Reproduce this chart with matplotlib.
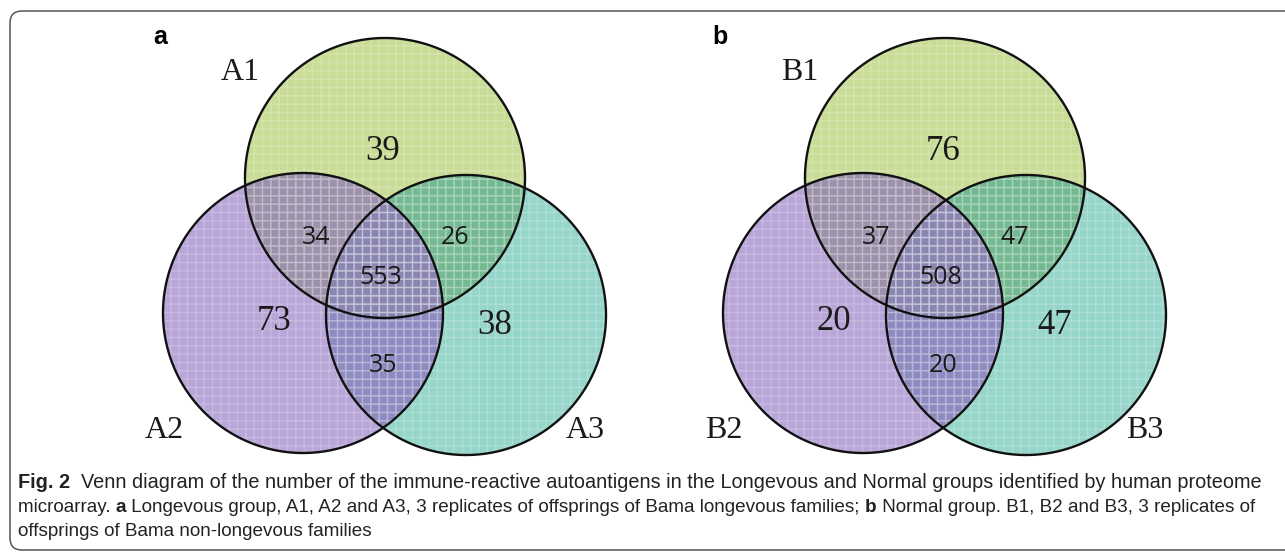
import numpy as np
import matplotlib
matplotlib.use("Agg")
import matplotlib.pyplot as plt
from matplotlib.patches import Polygon, FancyBboxPatch
from matplotlib import font_manager

# ---------------- data ----------------
panel_letters = ["a", "b"]
set_names_a = ["A1", "A2", "A3"]
set_names_b = ["B1", "B2", "B3"]
# region counts: only1, only2, only3, 1&2, 1&3, 2&3, 1&2&3
counts_a = [39, 73, 38, 34, 26, 35, 553]
counts_b = [76, 20, 47, 37, 47, 20, 508]

caption_lines = [
    [("Fig. 2", True), ("  Venn diagram of the number of the immune-reactive autoantigens in the Longevous and Normal groups identified by human proteome", False)],
    [("microarray. ", False), ("a", True), (" Longevous group, A1, A2 and A3, 3 replicates of offsprings of Bama longevous families; ", False),
     ("b", True), (" Normal group. B1, B2 and B3, 3 replicates of", False)],
    [("offsprings of Bama non-longevous families", False)],
]

# ---------------- style ----------------
W, H = 1285, 553
col_only = ["#c8dc96", "#b9a6d8", "#96d5c9"]
col_12 = "#9d92ab"
col_13 = "#74b992"
col_23 = "#8d8bbf"
col_123 = "#8a86b1"

avail = {f.name for f in font_manager.fontManager.ttflist}
def pick(*names):
    for n in names:
        if n in avail:
            return n
    return "DejaVu Sans"
serif = pick("Liberation Serif", "DejaVu Serif")
sans_num = pick("Open Sans", "Noto Sans", "DejaVu Sans")
bold_sans = pick("Liberation Sans", "DejaVu Sans")
cap_font = pick("Liberation Sans", "DejaVu Sans")

fig = plt.figure(figsize=(W / 100, H / 100), dpi=100)
ax = fig.add_axes([0, 0, 1, 1])
ax.set_xlim(0, W)
ax.set_ylim(H, 0)
ax.axis("off")

def circle_poly(cx, cy, r, n=720):
    t = np.linspace(0, 2 * np.pi, n, endpoint=False)
    return np.column_stack([cx + r * np.cos(t), cy + r * np.sin(t)])

def clip(subject, clipper):
    out = list(subject)
    m = len(clipper)
    for i in range(m):
        a = clipper[i]
        b = clipper[(i + 1) % m]
        inp = out
        out = []
        if not inp:
            break
        def inside(p):
            return (b[0] - a[0]) * (p[1] - a[1]) - (b[1] - a[1]) * (p[0] - a[0]) >= 0
        def inter(p, q):
            d1 = np.array(q) - np.array(p)
            d2 = b - a
            den = d1[0] * d2[1] - d1[1] * d2[0]
            s = ((a[0] - p[0]) * d2[1] - (a[1] - p[1]) * d2[0]) / den
            return np.array(p) + s * d1
        prev = inp[-1]
        for cur in inp:
            if inside(cur):
                if not inside(prev):
                    out.append(inter(prev, cur))
                out.append(cur)
            elif inside(prev):
                out.append(inter(prev, cur))
            prev = cur
    return np.array(out)

def venn(ox, names, counts, letter):
    r = 140
    centers = [(ox + 385, 178), (ox + 303, 313), (ox + 466, 315)]
    polys = [circle_poly(cx, cy, r) for cx, cy in centers]
    for p, c in zip(polys, col_only):
        ax.add_patch(Polygon(p, closed=True, facecolor=c, edgecolor="none", zorder=1))
    p12 = clip(polys[0], polys[1])
    p13 = clip(polys[0], polys[2])
    p23 = clip(polys[1], polys[2])
    p123 = clip(p12, polys[2])
    for p, c in [(p12, col_12), (p13, col_13), (p23, col_23), (p123, col_123)]:
        ax.add_patch(Polygon(p, closed=True, facecolor=c, edgecolor="none", zorder=2))
    # subtle grid texture
    for p in polys:
        ax.add_patch(Polygon(p, closed=True, facecolor="none", edgecolor=(1, 1, 1, 0.22),
                             hatch="++", linewidth=0, zorder=3))
    for p in polys:
        ax.add_patch(Polygon(p, closed=True, facecolor="none", edgecolor="#111111", linewidth=1.7, zorder=4))

    only1, only2, only3, n12, n13, n23, n123 = counts
    serif_pos = [((ox + 383, 152), only1), ((ox + 274, 322), only2), ((ox + 495, 325), only3)]
    sans_pos = [((ox + 316, 238), n12), ((ox + 455, 237), n13), ((ox + 383, 365), n23), ((ox + 381, 278), n123)]
    for (x, y), v in serif_pos:
        ax.text(x, y, str(v), fontfamily=serif, fontsize=25, ha="center", va="center", color="#1a1a1a", zorder=5)
    for (x, y), v in sans_pos:
        ax.text(x, y, str(v), fontfamily=sans_num, fontsize=18, ha="center", va="center", color="#1a1a1a", zorder=5)
    lab_pos = [(ox + 240, 72), (ox + 164, 430), (ox + 585, 430)]
    for (x, y), nm in zip(lab_pos, names):
        ax.text(x, y, nm, fontfamily=serif, fontsize=23, ha="center", va="center", color="#1a1a1a", zorder=5)
    ax.text(ox + 160, 37, letter, fontfamily=bold_sans, fontweight="bold", fontsize=18,
            ha="center", va="center", color="black", zorder=5)

venn(0, set_names_a, counts_a, panel_letters[0])
venn(560, set_names_b, counts_b, panel_letters[1])

# rounded frame
ax.add_patch(FancyBboxPatch((10, 11), 1320, 539, boxstyle="round,pad=0,rounding_size=12",
                            facecolor="none", edgecolor="#555555", linewidth=1.1, zorder=6))

# caption, font size fitted so full lines span the reference width
fig.canvas.draw()
renderer = fig.canvas.get_renderer()

def draw_line(segs, x0, y, size, measure_only=False):
    x = x0
    made = []
    for txt, bold in segs:
        t = ax.text(x, y, txt, fontfamily=cap_font, fontweight="bold" if bold else "normal",
                    fontsize=size, ha="left", va="center", color="#222222", zorder=7)
        bb = t.get_window_extent(renderer)
        x += bb.width
        made.append(t)
    if measure_only:
        for t in made:
            t.remove()
    return x - x0

base = 12.0
target = 1262 - 18
s1 = base * target / draw_line(caption_lines[0], 18, 480, base, measure_only=True)
s2 = base * target / draw_line(caption_lines[1], 18, 480, base, measure_only=True)
sizes = [s1, s2, min(s1, s2)]
line_y = [483, 507, 531]
for segs, y, s in zip(caption_lines, line_y, sizes):
    draw_line(segs, 18, y, s)

fig.savefig("out.png", dpi=100)
